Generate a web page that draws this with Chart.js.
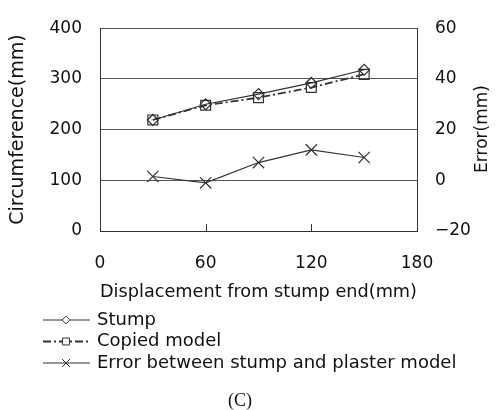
<!DOCTYPE html>
<html>
<head>
<meta charset="utf-8">
<script src="https://cdn.jsdelivr.net/npm/chart.js@4.4.1/dist/chart.umd.min.js"></script>
<style>
  html, body { margin: 0; padding: 0; background: #fff; }
  #wrap { width: 503px; height: 410px; }
</style>
</head>
<body>
<div id="wrap"><canvas id="chart" width="503" height="410"></canvas></div>
<script>
// values
const displacement = [30, 60, 90, 120, 150];
const stump = [219, 250, 270, 292, 318];
const copied = [219, 248, 263, 283, 309];
const errorVals = [1.5, -1, 7, 12, 9];
const xTicks = [0, 60, 120, 180];
const seriesNames = ['Stump', 'Copied model', 'Error between stump and plaster model'];

const ink = '#111';
const lineCol = '#333';
const font = '"DejaVu Sans", sans-serif';

function pairs(xs, ys) {
    return xs.map((x, i) => ({ x: x, y: ys[i] }));
}

// small inner ticks, right title, legend and caption
const extras = {
    id: 'extras',
    afterDraw(chart) {
        const ctx = chart.ctx;
        const xs = chart.scales.x;
        const area = chart.chartArea;
        ctx.save();
        ctx.strokeStyle = lineCol;
        ctx.lineWidth = 1;
        [60, 120].forEach(v => {
            const px = Math.round(xs.getPixelForValue(v)) + 0.5;
            ctx.beginPath();
            ctx.moveTo(px, area.bottom);
            ctx.lineTo(px, area.bottom - 7);
            ctx.stroke();
        });

        ctx.fillStyle = ink;
        ctx.font = '17px ' + font;
        ctx.textAlign = 'center';
        ctx.textBaseline = 'middle';
        ctx.save();
        ctx.translate(483, 129);
        ctx.rotate(-Math.PI / 2);
        ctx.fillText('Error(mm)', 0, 0);
        ctx.restore();

        // legend, one per row
        chart.data.datasets.forEach((ds, i) => {
            const y = 320 + i * 21.5;
            ctx.save();
            ctx.strokeStyle = ds.borderColor;
            ctx.lineWidth = ds.borderWidth;
            ctx.setLineDash(ds.borderDash || []);
            ctx.beginPath();
            ctx.moveTo(43, y);
            ctx.lineTo(90, y);
            ctx.stroke();
            ctx.setLineDash([]);
            ctx.fillStyle = '#fff';
            ctx.lineWidth = 1;
            Chart.helpers.drawPoint(ctx, {
                pointStyle: ds.pointStyle,
                radius: ds.pointRadius * 0.7,
                rotation: 0,
                borderWidth: 1
            }, 66, y);
            ctx.restore();
            ctx.fillStyle = ink;
            ctx.font = '18px ' + font;
            ctx.textAlign = 'left';
            ctx.textBaseline = 'middle';
            ctx.fillText(ds.label, 97, y);
        });

        ctx.font = '18px "Liberation Serif", serif';
        ctx.textAlign = 'center';
        ctx.fillText('(C)', 240, 401);
        ctx.restore();
    }
};

const ctx = document.getElementById('chart').getContext('2d');
new Chart(ctx, {
    type: 'line',
    data: {
        datasets: [{
            label: seriesNames[0],
            data: pairs(displacement, stump),
            yAxisID: 'y',
            borderColor: lineCol,
            borderWidth: 1.2,
            pointStyle: 'rectRot',
            pointRadius: 5.5,
            pointBorderWidth: 1.2,
            pointBackgroundColor: 'rgba(255,255,255,0)',
            pointBorderColor: lineCol
        }, {
            label: seriesNames[1],
            data: pairs(displacement, copied),
            yAxisID: 'y',
            borderColor: lineCol,
            borderWidth: 1.8,
            borderDash: [8, 3, 2, 3],
            pointStyle: 'rect',
            pointRadius: 7,
            pointBorderWidth: 1.2,
            pointBackgroundColor: 'rgba(255,255,255,0)',
            pointBorderColor: lineCol
        }, {
            label: seriesNames[2],
            data: pairs(displacement, errorVals),
            yAxisID: 'y2',
            borderColor: lineCol,
            borderWidth: 1.2,
            pointStyle: 'crossRot',
            pointRadius: 8,
            pointBorderWidth: 1.2,
            pointBorderColor: lineCol
        }]
    },
    options: {
        responsive: false,
        animation: false,
        events: [],
        layout: { padding: { top: 12, left: 0, right: 0, bottom: 107 } },
        elements: { line: { tension: 0 } },
        plugins: {
            legend: { display: false },
            tooltip: { enabled: false }
        },
        scales: {
            x: {
                type: 'linear',
                min: 0,
                max: 180,
                afterBuildTicks: s => { s.ticks = xTicks.map(v => ({ value: v })); },
                afterFit: s => { s.height = 72; },
                grid: { display: false, drawTicks: false },
                border: { display: true, color: lineCol },
                ticks: { color: ink, padding: 22, font: { family: font, size: 17 } },
                title: {
                    display: true,
                    text: 'Displacement from stump end(mm)',
                    color: ink,
                    padding: { top: 0, bottom: 0 },
                    font: { family: font, size: 18 }
                }
            },
            y: {
                position: 'left',
                min: 0,
                max: 400,
                afterFit: s => { s.width = 100; },
                grid: { color: '#555', drawTicks: false },
                border: { display: true, color: lineCol },
                ticks: { stepSize: 100, color: ink, padding: 18, font: { family: font, size: 17 } },
                title: {
                    display: true,
                    text: 'Circumference(mm)',
                    color: ink,
                    padding: { top: 7, bottom: 0 },
                    font: { family: font, size: 19 }
                }
            },
            y2: {
                position: 'right',
                min: -20,
                max: 60,
                afterFit: s => { s.width = 86; },
                grid: { display: false, drawTicks: false },
                border: { display: true, color: lineCol },
                ticks: {
                    stepSize: 20,
                    color: ink,
                    padding: 18,
                    font: { family: font, size: 17 },
                    callback: v => String(v).replace('-', '\u2212')
                }
            }
        }
    },
    plugins: [extras]
});
</script>
</body>
</html>
